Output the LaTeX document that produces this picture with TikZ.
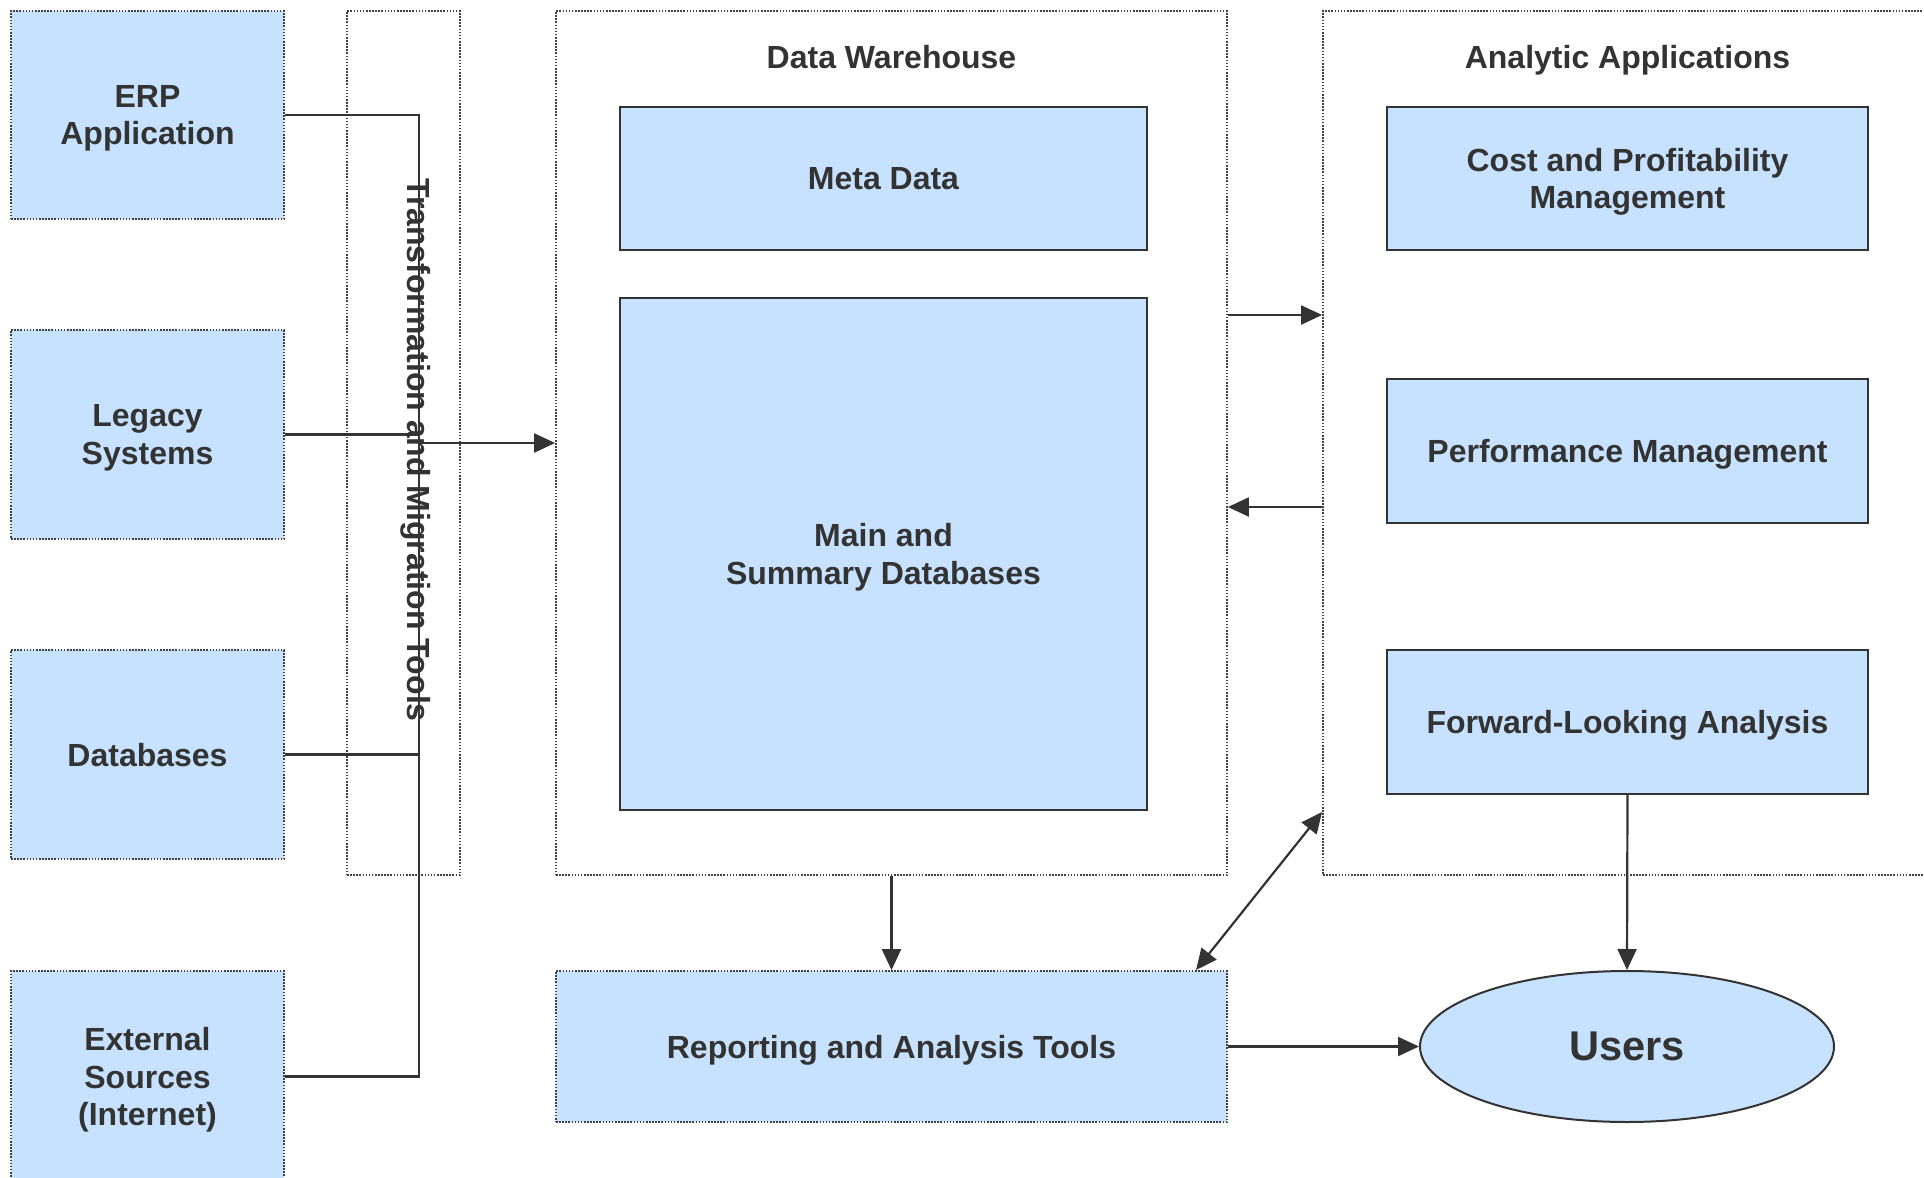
\documentclass[tikz,border=0pt]{standalone}
\usepackage{fontspec}
\setmainfont{Liberation Sans}
\usetikzlibrary{arrows.meta,shapes.geometric}
\definecolor{boxblue}{RGB}{199,226,255}
\definecolor{ink}{RGB}{51,51,51}
\definecolor{dotgray}{RGB}{64,64,64}
\tikzset{
  lbl/.style={font=\bfseries\fontsize{16}{18.6}\selectfont, text=ink, align=center, text depth=0pt},
  dotframe/.style={draw=dotgray, line width=0.9pt, dash pattern=on 0.8pt off 0.75pt, inner sep=0pt},
  srcbox/.style={dotframe, fill=boxblue, lbl},
  solidbox/.style={draw=ink, line width=1pt, fill=boxblue, inner sep=0pt, lbl},
  conn/.style={draw=ink, line width=1.1pt},
  arr/.style={conn, -{Triangle[length=10.5pt,width=9.5pt]}},
  arrboth/.style={conn, {Triangle[length=10.5pt,width=9.5pt]}-{Triangle[length=10.5pt,width=9.5pt]}},
}
\begin{document}
\begin{tikzpicture}[x=0.5pt, y=-0.5pt]
  \useasboundingbox (0,0) rectangle (1924,1178);
  \clip (0,0) rectangle (1924,1178);
  \fill[white] (0,0) rectangle (1924,1178);

  % source systems
  \node[srcbox, minimum width=136.5pt, minimum height=104pt] (erp) at (147.5,115) {ERP\\Application};
  \node[srcbox, minimum width=136.5pt, minimum height=104.5pt] (legacy) at (147.5,434.5) {Legacy\\Systems};
  \node[srcbox, minimum width=136.5pt, minimum height=104.5pt] (dbs) at (147.5,754.5) {Databases};
  \node[srcbox, minimum width=136.5pt, minimum height=105.5pt] (ext) at (147.5,1076.5) {External\\Sources\\(Internet)};

  % transformation layer
  \node[dotframe, minimum width=56.5pt, minimum height=432pt] (tmt) at (403.5,443) {};

  % data warehouse
  \node[dotframe, minimum width=335.5pt, minimum height=432pt] (dw) at (891.5,443) {};
  \node[lbl] (dwtitle) at (891.5,57) {Data Warehouse};
  \node[solidbox, minimum width=263.5pt, minimum height=71.5pt] (meta) at (883.5,178.5) {Meta Data};
  \node[solidbox, minimum width=263.5pt, minimum height=256pt] (mainsum) at (883.5,554) {Main and\\Summary Databases};

  % analytic applications
  \node[dotframe, minimum width=313.5pt, minimum height=432pt] (aa) at (1636.5,443) {};
  \node[lbl] (aatitle) at (1627.5,57) {Analytic Applications};
  \node[solidbox, minimum width=240.5pt, minimum height=71.5pt] (cost) at (1627.5,178.5) {Cost and Profitability\\Management};
  \node[solidbox, minimum width=240.5pt, minimum height=72pt] (perf) at (1627.5,451) {Performance Management};
  \node[solidbox, minimum width=240.5pt, minimum height=72pt] (fwd) at (1627.5,722) {Forward-Looking Analysis};

  % reporting and users
  \node[srcbox, minimum width=335.5pt, minimum height=75.5pt] (rep) at (891.5,1046.5) {Reporting and Analysis Tools};
  \node[ellipse, draw=ink, line width=1pt, fill=boxblue, minimum width=207pt, minimum height=75.5pt, inner sep=0pt,
        font=\bfseries\fontsize{20.8}{24}\selectfont, text=ink, text depth=0pt] (users) at (1627,1046.5) {Users};

  % collector bus from the sources
  \coordinate (bus) at (419,0);
  \draw[conn] (erp.east) -| (bus |- ext.east) -- (ext.east);
  \draw[conn] (legacy.east) -- (legacy.east -| bus);
  \draw[conn] (dbs.east) -- (dbs.east -| bus);
  \draw[arr] (dw.west -| bus) -- (dw.west);

  % vertical label over the transformation layer
  \node[lbl, rotate=-90] (tmtlabel) at (419,450) {Transformation and Migration Tools};

  % warehouse <-> analytic applications
  \coordinate (lvlA) at (0,315);
  \coordinate (lvlB) at (0,507);
  \coordinate (lvlC) at (0,812);
  \coordinate (repcorner) at (1196,970);
  \draw[arr] (dw.east |- lvlA) -- (aa.west |- lvlA);
  \draw[arr] (aa.west |- lvlB) -- (dw.east |- lvlB);
  \draw[arr] (dw.south) -- (rep.north);
  \draw[arrboth] (repcorner) -- (aa.west |- lvlC);
  \draw[arr] (fwd.south) -- (users.north);
  \draw[arr] (rep.east) -- (users.west);
\end{tikzpicture}
\end{document}
